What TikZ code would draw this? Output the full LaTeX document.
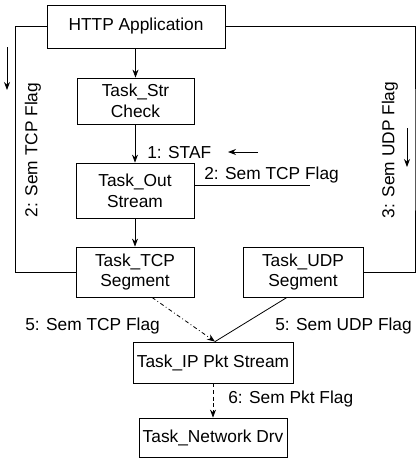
\documentclass[tikz,border=0pt]{standalone}
\usepackage{fontspec}
\setmainfont{Liberation Sans}
\usetikzlibrary{arrows.meta}
\begin{document}
\begin{tikzpicture}[x=0.75pt,y=-0.75pt,
  font=\fontsize{13}{15.5}\selectfont,
  box/.style={draw, line width=0.6pt, align=center, inner sep=0pt},
  conn/.style={line width=0.6pt},
  arr/.style={conn, -{Stealth[length=6pt,width=4.5pt]}},
  lbl/.style={inner sep=0pt, anchor=base west}]
\useasboundingbox (0,0) rectangle (417,458);
% boxes
\node[box, minimum width=133.5pt, minimum height=32.25pt] (http) at (136,26.5) {HTTP Application};
\node[box, minimum width=87.75pt, minimum height=34.5pt] (str) at (135.5,101) {Task\_Str\\Check};
\node[box, minimum width=88.5pt, minimum height=41.25pt] (out) at (135,190.5) {Task\_Out\\Stream};
\node[box, minimum width=88.5pt, minimum height=37.5pt] (tcp) at (135,272) {Task\_TCP\\Segment};
\node[box, minimum width=90pt, minimum height=37.5pt] (udp) at (303,272) {Task\_UDP\\Segment};
\node[box, minimum width=120pt, minimum height=30.75pt] (ip) at (213,362.5) {Task\_IP Pkt Stream};
\node[box, minimum width=111pt, minimum height=29.25pt] (net) at (213,437.5) {Task\_Network Drv};
% side routes
\coordinate (lc) at (15.5,150);
\coordinate (rc) at (415,150);
\draw[conn] (http.west) -| (lc) |- (tcp.west);
\draw[conn] (http.east) -| (rc) |- (udp.east);
% vertical chain
\draw[arr] (http.south -| str.north) -- (str.north);
\draw[arr] (str.south -| out.north) -- (out.north);
\draw[arr] (out.south) -- (tcp.north);
% line from out
\coordinate (oe) at (310,185);
\draw[conn] (oe -| out.east) -- (oe);
% to ip
\draw[arr, dash dot] ([xshift=12.75pt]tcp.south) -- ([xshift=1.5pt]ip.north);
\draw[conn] ([xshift=-12pt]udp.south) -- ([xshift=1.5pt]ip.north);
\draw[arr, densely dashed] (ip.south) -- (net.north);
% small arrows
\coordinate (a1s) at (7,47);
\coordinate (a1e) at (7,90);
\draw[arr] (a1s) -- (a1e);
\coordinate (a2s) at (407,128);
\coordinate (a2e) at (407,167);
\draw[arr] (a2s) -- (a2e);
\coordinate (a3s) at (258,152);
\coordinate (a3e) at (228,152);
\draw[arr] (a3s) -- (a3e);
% labels
\node[lbl] (l1) at (147,158) {1: STAF};
\node[lbl] (l2) at (204,179) {2: Sem TCP Flag};
\node[inner sep=0pt, rotate=90] (l3) at (33,150) {2: Sem TCP Flag};
\node[inner sep=0pt, rotate=90] (l4) at (390,150) {3: Sem UDP Flag};
\node[lbl] (l5) at (25,330) {5: Sem TCP Flag};
\node[lbl] (l6) at (275,330) {5: Sem UDP Flag};
\node[lbl] (l7) at (228,403) {6: Sem Pkt Flag};
\end{tikzpicture}
\end{document}
